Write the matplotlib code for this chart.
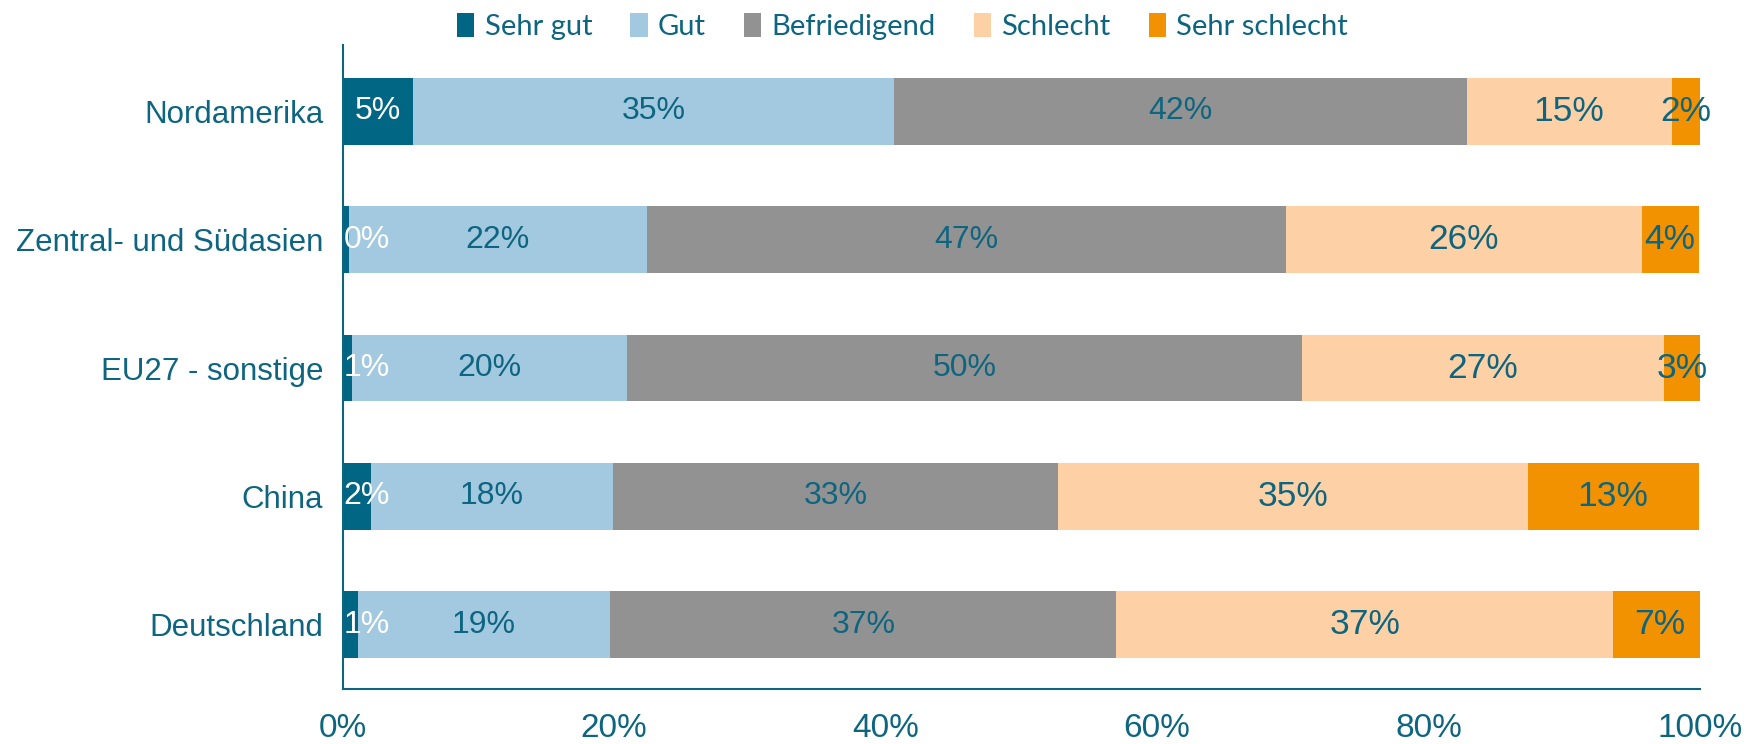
import numpy as np
import matplotlib
matplotlib.use('Agg')
import matplotlib.pyplot as plt
from matplotlib.patches import Patch


REGIONS = ['Deutschland', 'China', 'EU27 - sonstige', 'Zentral- und Südasien', 'Nordamerika']
CATEGORIES = ['Sehr gut', 'Gut', 'Befriedigend', 'Schlecht', 'Sehr schlecht']

# shares in percent, one list per category, order as REGIONS
sehr_gut = [1.1, 2.1, 0.66, 0.45, 5.2]
gut = [18.6, 17.8, 20.3, 21.95, 35.4]
befriedigend = [37.3, 32.8, 49.7, 47.1, 42.2]
schlecht = [36.6, 34.6, 26.7, 26.2, 15.1]
sehr_schlecht = [6.8, 12.6, 2.7, 4.2, 2.1]

XTICKS = [0, 20, 40, 60, 80, 100]

COLORS = ['#006684', '#A2C9E0', '#929292', '#FDD1A5', '#F39200']
LABEL_COLORS = ['white', '#0E6580', '#0E6580', '#0E6580', '#0E6580']
LABEL_SIZES = [23, 23, 23, 25.5, 25.5]
TEAL = '#0E6580'

plt.rcParams['font.family'] = ['Liberation Sans', 'DejaVu Sans']

fig = plt.figure(figsize=(17.49, 7.44), dpi=100)
ax = fig.add_axes([0.196, 0.074, 0.776, 0.866])

series = [sehr_gut, gut, befriedigend, schlecht, sehr_schlecht]
y = np.arange(len(REGIONS))
left = np.zeros(len(REGIONS))
for vals, name, color, lcol, lsize in zip(series, CATEGORIES, COLORS, LABEL_COLORS, LABEL_SIZES):
    vals = np.array(vals)
    ax.barh(y, vals, left=left, height=0.52, color=color, label=name)
    for yi, l, v in zip(y, left, vals):
        # keep labels of tiny first segments inside the plot area
        cx = max(l + v / 2, 1.75)
        ax.text(cx, yi, f'{v:.0f}%', ha='center', va='center',
                color=lcol, fontsize=lsize)
    left += vals

ax.set_xlim(0, 100)
ax.set_ylim(-0.5, 4.52)
ax.set_xticks(XTICKS)
ax.set_xticklabels([f'{t}%' for t in XTICKS])
ax.set_yticks(y)
ax.set_yticklabels(REGIONS)
ax.tick_params(axis='x', length=0, pad=17, labelsize=24, labelcolor=TEAL)
ax.tick_params(axis='y', length=0, pad=14, labelsize=22.5, labelcolor=TEAL)

for side in ['top', 'right']:
    ax.spines[side].set_visible(False)
for side in ['left', 'bottom']:
    ax.spines[side].set_color(TEAL)
    ax.spines[side].set_linewidth(1.5)

handles = [Patch(facecolor=c, label=n) for c, n in zip(COLORS, CATEGORIES)]
leg = fig.legend(handles=handles, loc='upper center', bbox_to_anchor=(0.516, 1.018),
                 ncol=5, frameon=False, handlelength=0.6, handleheight=0.9,
                 handletextpad=0.35, columnspacing=1.3,
                 prop={'family': 'Lato', 'size': 21})
for t in leg.get_texts():
    t.set_color(TEAL)

fig.savefig('out.png', dpi=100)
